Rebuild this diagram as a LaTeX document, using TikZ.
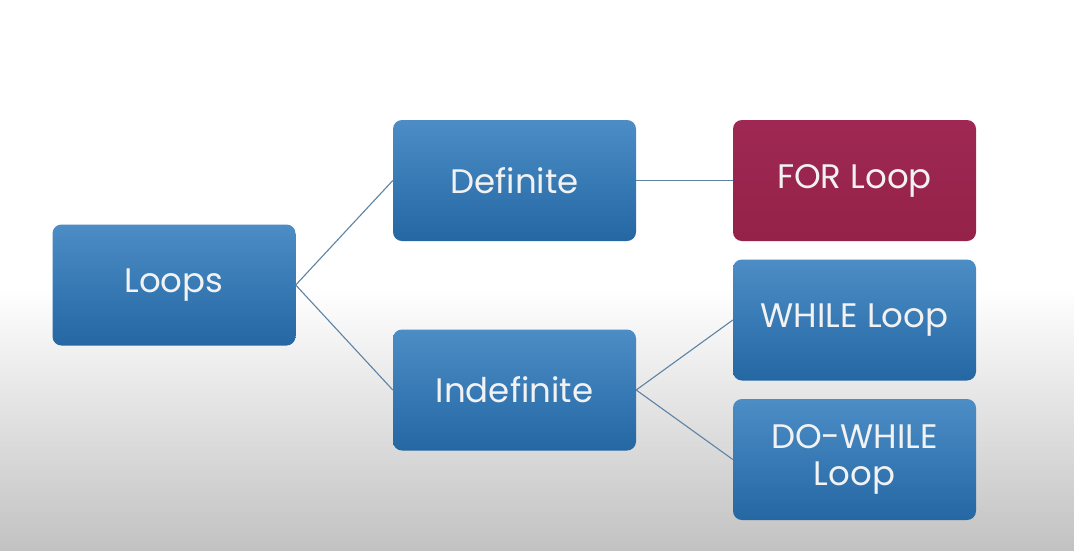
\documentclass[tikz,border=0pt]{standalone}
\usepackage{fontspec}
\setmainfont{Poppins}
\begin{document}
\begin{tikzpicture}[x=1pt,y=-1pt,
  box/.style={rounded corners=9pt, minimum width=243pt, minimum height=121pt, inner sep=0pt,
    draw=none, top color=boxtop, bottom color=boxbot, text=white!95!black, align=center,
    font=\fontsize{34}{37}\selectfont},
  redbox/.style={box, top color=redtop, bottom color=redbot},
  link/.style={draw=linkc, line width=1.1pt}]
\definecolor{boxtop}{HTML}{4C8DC6}
\definecolor{boxbot}{HTML}{2467A3}
\definecolor{redtop}{HTML}{9E2853}
\definecolor{redbot}{HTML}{952248}
\definecolor{linkc}{HTML}{5E83A3}
\definecolor{bgbot}{HTML}{C2C2C2}
\useasboundingbox (0,0) rectangle (1074,550);
\fill[white] (0,0) rectangle (1074,290);
\shade[top color=white, bottom color=bgbot] (0,289) rectangle (1074,550);
\node[box] (loops) at (174,285) {Loops};
\node[box] (def) at (514.5,180.5) {Definite};
\node[box] (indef) at (514.5,390) {Indefinite};
\node[redbox] (for) at (854.5,180.5) {FOR Loop};
\node[box] (while) at (854.5,320) {WHILE Loop};
\node[box] (dowhile) at (854.5,459.5) {DO-WHILE\\Loop};
\draw[link] (loops.east) -- (def.west);
\draw[link] (loops.east) -- (indef.west);
\draw[link] (def.east) -- (for.west);
\draw[link] (indef.east) -- (while.west);
\draw[link] (indef.east) -- (dowhile.west);
\end{tikzpicture}
\end{document}
